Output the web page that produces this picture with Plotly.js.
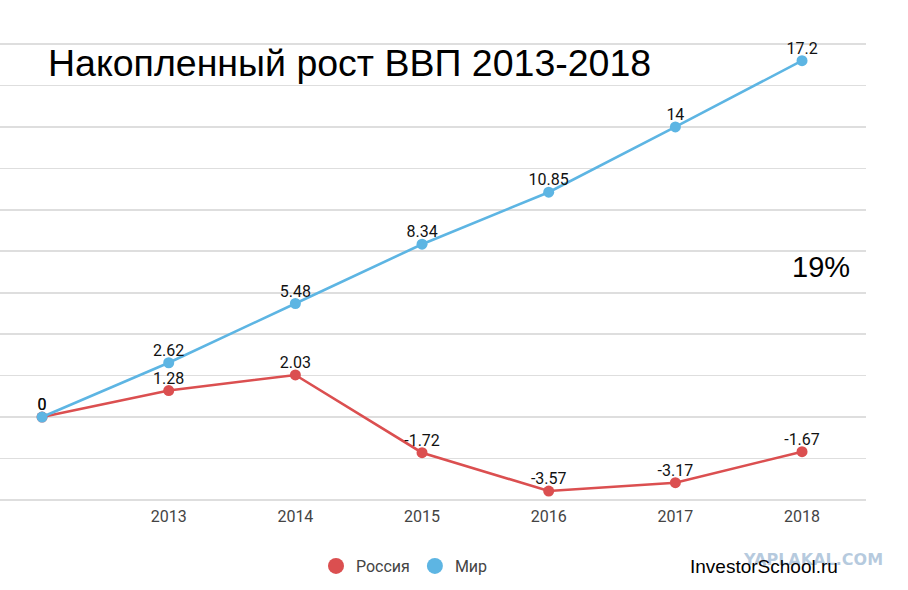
<!DOCTYPE html>
<html>
<head>
<meta charset="utf-8">
<script src="https://cdn.plot.ly/plotly-3.0.1.min.js"></script>
<style>html,body{margin:0;padding:0;background:#fff;}#chart{width:908px;height:590px;}</style>
</head>
<body>
<div id="chart"></div>
<script>
const years = [2012, 2013, 2014, 2015, 2016, 2017, 2018];
const tickYears = [2013, 2014, 2015, 2016, 2017, 2018];
const tickLabels = ['2013', '2014', '2015', '2016', '2017', '2018'];
const russia = [0, 1.28, 2.03, -1.72, -3.57, -3.17, -1.67];
const world = [0, 2.62, 5.48, 8.34, 10.85, 14, 17.2];
const seriesNames = ['Россия', 'Мир'];
const colors = ['#db4f50', '#5db5e3'];

function lineTrace(y, color) {
  return {
    x: years, y: y, type: 'scatter', mode: 'lines+markers',
    line: {color: color, width: 2.6},
    marker: {color: color, size: 11},
    cliponaxis: false, showlegend: false, hoverinfo: 'skip'
  };
}
function labelTrace(y) {
  return {
    x: years, y: y, type: 'scatter', mode: 'markers+text',
    marker: {size: 3, opacity: 0},
    text: y.map(v => String(v)), textposition: 'top center',
    textfont: {family: 'Roboto', size: 16, color: '#111'},
    cliponaxis: false, showlegend: false, hoverinfo: 'skip'
  };
}
function legendTrace(name, color) {
  return {x: [null], y: [null], type: 'scatter', mode: 'markers', name: name,
    marker: {color: color, size: 20}, showlegend: true};
}

const data = [
  lineTrace(russia, colors[0]),
  lineTrace(world, colors[1]),
  labelTrace(russia),
  labelTrace(world),
  legendTrace(seriesNames[0], colors[0]),
  legendTrace(seriesNames[1], colors[1])
];

// plot area: top 42px, bottom 502px (height 460)
const py = v => (502 - v) / 460;

const layout = {
  width: 908, height: 590,
  margin: {l: 0, r: 42, t: 42, b: 88, autoexpand: false},
  paper_bgcolor: '#fff', plot_bgcolor: '#fff',
  font: {family: 'Roboto', color: '#444'},
  title: {
    text: 'Накопленный рост ВВП 2013-2018',
    font: {family: 'Liberation Sans, Arial', size: 37.5, color: '#000'},
    x: 48/908, xanchor: 'left', xref: 'container',
    y: 1 - 63/590, yanchor: 'middle', yref: 'container'
  },
  xaxis: {
    range: [2011.668, 2018.505], tickvals: tickYears, ticktext: tickLabels,
    showgrid: false, zeroline: false, showline: false, ticks: '',
    ticklabelstandoff: 3, automargin: false,
    tickfont: {family: 'Roboto', size: 16, color: '#444'}
  },
  yaxis: {
    range: [-4.1, 18.1], tickvals: [-4, -2, 0, 2, 4, 6, 8, 10, 12, 14, 16, 18],
    showticklabels: false, ticks: '', automargin: false,
    showgrid: true, gridcolor: '#dedede', gridwidth: 1.6,
    zeroline: false, showline: false
  },
  showlegend: true,
  legend: {
    orientation: 'h', x: 316/866, xanchor: 'left', y: py(566), yanchor: 'middle',
    font: {family: 'Roboto', size: 16, color: '#444'}, bgcolor: 'rgba(0,0,0,0)'
  },
  annotations: [
    {text: '<b>YAPLAKAL.COM</b>', xref: 'paper', yref: 'paper', x: 813/866, y: py(559),
     xanchor: 'center', yanchor: 'middle', showarrow: false,
     font: {family: 'DejaVu Sans', size: 16, color: 'rgba(110,150,190,0.5)'}},
    {text: '19%', xref: 'paper', yref: 'paper', x: 821/866, y: py(267),
     xanchor: 'center', yanchor: 'middle', showarrow: false,
     font: {family: 'Liberation Sans, Arial', size: 29, color: '#000'}},
    {text: 'InvestorSchool.ru', xref: 'paper', yref: 'paper', x: 764/866, y: py(566),
     xanchor: 'center', yanchor: 'middle', showarrow: false,
     font: {family: 'Liberation Sans, Arial', size: 19, color: '#000'}}
  ]
};

Plotly.newPlot('chart', data, layout, {displayModeBar: false, staticPlot: true});
</script>
</body>
</html>
